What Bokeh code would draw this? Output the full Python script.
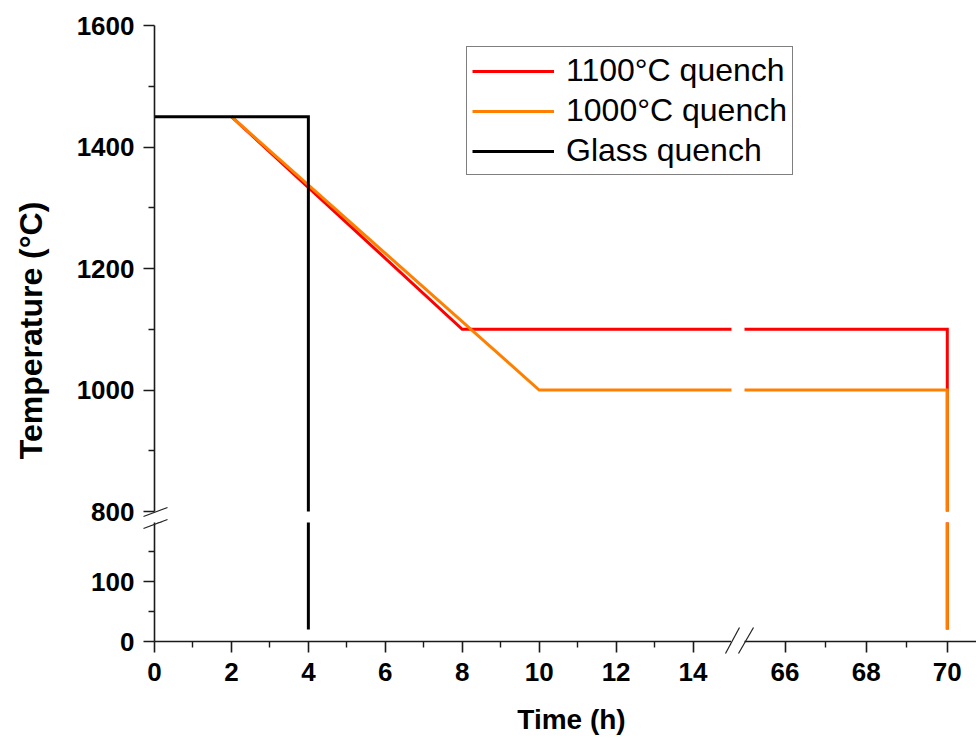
import math
from bokeh.plotting import figure
from bokeh.models import (Range1d, FixedTicker, Legend, LegendItem)
from bokeh.core.properties import value
from bokeh.layouts import column, row
from bokeh.embed import file_html
from bokeh.resources import INLINE

# ---------------- data ----------------
series_names = ["1100\u00b0C quench", "1000\u00b0C quench", "Glass quench"]
series_colors = ["#FF0000", "#FF8000", "#000000"]

q1100_x = [2, 8, 70, 70]
q1100_y = [1450, 1100, 1100, 20]
q1000_x = [2, 10, 70, 70]
q1000_y = [1450, 1000, 1000, 20]
glass_x = [0, 4, 4]
glass_y = [1450, 1450, 20]

x_left_ticks = [0, 2, 4, 6, 8, 10, 12, 14]
x_left_minor = [1, 3, 5, 7, 9, 11, 13]
x_right_ticks = [66, 68, 70]
x_right_minor = [67, 69]
y_top_ticks = [800, 1000, 1200, 1400, 1600]
y_top_minor = [900, 1100, 1300, 1500]
y_bot_ticks = [0, 100]
y_bot_minor = [50, 150]

x_title = "Time (h)"
y_title = "Temperature (\u00b0C)"

X_LEFT = (0, 15)
X_RIGHT = (65, 70.72)
Y_TOP = (800, 1600)
Y_BOT = (0, 199)

# ---------------- layout (pixels) ----------------
BL, WL, GAP, WR = 154, 577, 13, 232
TOP_B, HT, TOP_BB = 25, 486, 19
OVERLAP = 8                      # bottom row slides up over the top canvas' spare strip
BOT_T, HB, BOT_B = 0, 119, 95
TOP_W = BL + WL + GAP + WR
TOP_H = TOP_B + HT + TOP_BB
BOT_H = BOT_T + HB + BOT_B

FL = BL                                   # frame left (page px)
FT = TOP_B                                # top frame top
FB = TOP_H - OVERLAP + BOT_T + HB         # bottom frame bottom
RFL = BL + WL + GAP                       # right frame left


def tx(px):
    return X_LEFT[0] + (px - FL) * (X_LEFT[1] - X_LEFT[0]) / WL


def ty(py):
    return Y_TOP[1] - (py - FT) * (Y_TOP[1] - Y_TOP[0]) / HT


def by(py):
    return Y_BOT[0] + (FB - py) * (Y_BOT[1] - Y_BOT[0]) / HB


def rx(px):
    return X_RIGHT[0] + (px - RFL) * (X_RIGHT[1] - X_RIGHT[0]) / WR


def clip_x(xs, ys, lo, hi):
    out = []
    for i in range(len(xs) - 1):
        x0, y0, x1, y1 = xs[i], ys[i], xs[i + 1], ys[i + 1]
        a, b = max(min(x0, x1), lo), min(max(x0, x1), hi)
        if a > b:
            continue
        if x0 == x1:
            seg = [(x0, y0), (x1, y1)]
        else:
            f = lambda x: y0 + (y1 - y0) * (x - x0) / (x1 - x0)
            seg = [(a, f(a)), (b, f(b))] if x0 < x1 else [(b, f(b)), (a, f(a))]
        for pt in seg:
            if not out or out[-1] != pt:
                out.append(pt)
    return [p[0] for p in out], [p[1] for p in out]


FONT = "Liberation Sans"


def style_axis(ax, ticks, minor, standoff):
    ax.ticker = FixedTicker(ticks=ticks, minor_ticks=minor)
    ax.axis_line_color = "#1a1a1a"
    ax.axis_line_width = 1.6
    ax.major_tick_line_color = "#1a1a1a"
    ax.major_tick_line_width = 1.6
    ax.minor_tick_line_color = "#1a1a1a"
    ax.minor_tick_line_width = 1.4
    ax.major_tick_out = 11
    ax.major_tick_in = 0
    ax.minor_tick_out = 6
    ax.minor_tick_in = 0
    ax.major_label_text_font = FONT
    ax.major_label_text_font_style = "bold"
    ax.major_label_text_font_size = "26px"
    ax.major_label_text_color = "#000000"
    ax.major_label_standoff = standoff


def base_fig(**kw):
    p = figure(output_backend="svg", toolbar_location=None, **kw)
    p.outline_line_color = None
    p.xgrid.visible = False
    p.ygrid.visible = False
    p.background_fill_color = "white"
    p.border_fill_color = "white"
    return p


def slashes(fig, marks, fx, fy):
    fig.segment(x0=[fx(a[0]) for a, b in marks], y0=[fy(a[1]) for a, b in marks],
                x1=[fx(b[0]) for a, b in marks], y1=[fy(b[1]) for a, b in marks],
                line_color="#222222", line_width=1.2, level="overlay")


# ---------------- top panel (800-1600) ----------------
top_end = X_LEFT[0] + (X_LEFT[1] - X_LEFT[0]) * (WL + GAP + WR) / WL
r_scale = WR / (X_RIGHT[1] - X_RIGHT[0])
top = base_fig(width=TOP_W, height=TOP_H,
               x_range=Range1d(X_LEFT[0], top_end), y_range=Range1d(*Y_TOP),
               x_axis_location=None, y_axis_location="left",
               min_border_left=BL, min_border_right=0,
               min_border_top=TOP_B, min_border_bottom=TOP_BB)
top.extra_x_ranges = {"right": Range1d(X_RIGHT[0] - (WL + GAP) / r_scale, X_RIGHT[1])}
style_axis(top.yaxis[0], y_top_ticks, y_top_minor, 9)

series = [(q1100_x, q1100_y), (q1000_x, q1000_y), (glass_x, glass_y)]

# ---------------- bottom panels (0-200) ----------------
bl = base_fig(width=BL + WL, height=BOT_H,
              x_range=Range1d(*X_LEFT), y_range=Range1d(*Y_BOT),
              min_border_left=BL, min_border_right=0,
              min_border_top=BOT_T, min_border_bottom=BOT_B)
style_axis(bl.yaxis[0], y_bot_ticks, y_bot_minor, 9)
style_axis(bl.xaxis[0], x_left_ticks, x_left_minor, 10)

br = base_fig(width=GAP + WR, height=BOT_H,
              x_range=Range1d(*X_RIGHT), y_range=Range1d(*Y_BOT),
              y_axis_location=None,
              min_border_left=GAP, min_border_right=0,
              min_border_top=BOT_T, min_border_bottom=BOT_B)
style_axis(br.xaxis[0], x_right_ticks, x_right_minor, 10)

legend_items = []
for (xs, ys), name, color in zip(series, series_names, series_colors):
    lx, ly = clip_x(xs, ys, X_LEFT[0], X_LEFT[1])
    r = top.line(lx, ly, line_color=color, line_width=3, line_join="miter")
    legend_items.append(LegendItem(label=name, renderers=[r]))
    rxs, rys = clip_x(xs, ys, X_RIGHT[0], X_RIGHT[1])
    if len(rxs) >= 2:
        top.line(rxs, rys, line_color=color, line_width=3, line_join="miter",
                 x_range_name="right")
    bl.line(xs, ys, line_color=color, line_width=3, line_join="miter")
    br.line(xs, ys, line_color=color, line_width=3, line_join="miter")

legend = Legend(items=legend_items, location=(466 - FL, (FT + HT) - 175),
                label_text_font=FONT, label_text_font_size="32px",
                label_text_color="#000000",
                glyph_width=82, glyph_height=24, label_standoff=12,
                padding=5, spacing=3, margin=0,
                border_line_color="#000000", border_line_width=1,
                background_fill_color="white", background_fill_alpha=1)
top.add_layout(legend)

# axis titles (drawn at overlay level so they may sit outside the frame)
top.text(x=[tx(30)], y=[ty(330)], text=[y_title], angle=math.pi / 2,
         text_align="center", text_baseline="middle",
         text_font=value(FONT), text_font_style="bold", text_font_size="32px",
         text_color="#000000", level="overlay")
bl.text(x=[tx(571)], y=[by(719)], text=[x_title],
        text_align="center", text_baseline="middle",
        text_font=value(FONT), text_font_style="bold", text_font_size="28px",
        text_color="#000000", level="overlay")

# axis break marks
ybreak = [((143, 516), (167, 507)), ((143, 528), (167, 519))]
slashes(top, ybreak, tx, ty)
slashes(bl, ybreak, tx, by)
xbreak = [((725, 653), (739, 627)), ((738, 653), (753, 627))]
slashes(bl, xbreak, tx, by)
slashes(br, xbreak, rx, by)

bottom_row = row(bl, br, spacing=0, margin=(-OVERLAP, 0, 0, 0))
layout = column(top, bottom_row, spacing=0)
open("out.html", "w").write(file_html(layout, INLINE))
